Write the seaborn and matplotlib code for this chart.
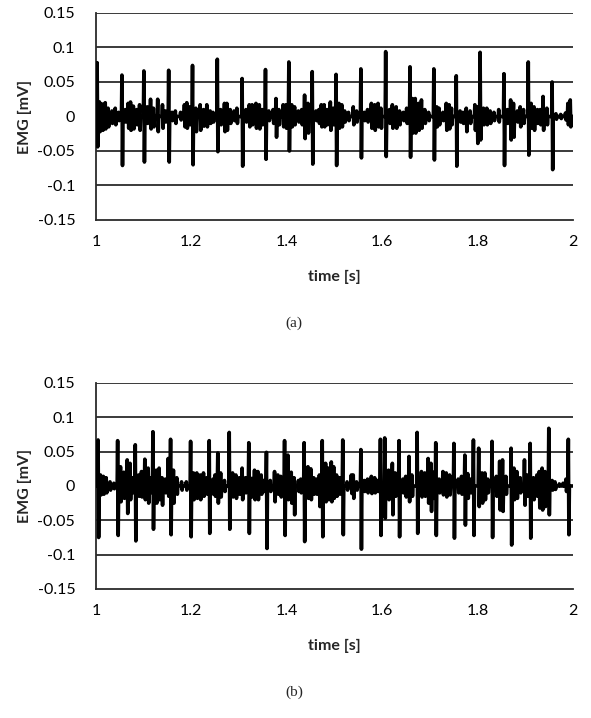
import matplotlib
matplotlib.use('Agg')
import matplotlib.pyplot as plt
import seaborn as sns

# values (time in s, EMG in mV)
a_spike_t = [1.003, 1.055, 1.101, 1.153, 1.203, 1.255, 1.307, 1.356, 1.405, 1.454,
             1.504, 1.556, 1.608, 1.659, 1.709, 1.756, 1.806, 1.856, 1.907, 1.957]
a_spike_hi = [0.078, 0.060, 0.066, 0.067, 0.074, 0.083, 0.055, 0.068, 0.079, 0.065,
              0.061, 0.069, 0.094, 0.072, 0.069, 0.059, 0.093, 0.062, 0.079, 0.050]
a_spike_lo = [-0.044, -0.071, -0.066, -0.066, -0.070, -0.051, -0.072, -0.062, -0.050, -0.069,
              -0.071, -0.060, -0.058, -0.059, -0.063, -0.072, -0.034, -0.071, -0.056, -0.077]

a_wig_t = [1.008, 1.014, 1.020, 1.026, 1.034, 1.041, 1.048, 1.062, 1.068, 1.073, 1.079, 1.086, 1.092,
           1.108, 1.115, 1.121, 1.130, 1.140, 1.146, 1.160, 1.167, 1.178, 1.186, 1.191, 1.197,
           1.210, 1.219, 1.226, 1.233, 1.240, 1.246, 1.262, 1.270, 1.275, 1.282, 1.290, 1.296,
           1.315, 1.322, 1.328, 1.336, 1.343, 1.349, 1.363, 1.372, 1.378, 1.384, 1.393, 1.399,
           1.411, 1.417, 1.425, 1.432, 1.438, 1.445, 1.462, 1.468, 1.473, 1.479, 1.485, 1.492, 1.498,
           1.510, 1.516, 1.522, 1.530, 1.540, 1.547, 1.563, 1.570, 1.578, 1.585, 1.592, 1.598,
           1.616, 1.622, 1.630, 1.637, 1.645, 1.652, 1.664, 1.670, 1.677, 1.683, 1.690, 1.698,
           1.715, 1.720, 1.728, 1.735, 1.741, 1.746, 1.764, 1.770, 1.777, 1.785, 1.795, 1.800,
           1.813, 1.820, 1.827, 1.835, 1.845, 1.863, 1.870, 1.876, 1.884, 1.890, 1.897,
           1.913, 1.919, 1.926, 1.932, 1.938, 1.946, 1.965, 1.975, 1.985, 1.990, 1.995]
a_wig_hi = [0.021, 0.018, 0.020, 0.012, 0.008, 0.012, 0.006, 0.010, 0.019, 0.021, 0.015, 0.010, 0.017,
            0.014, 0.025, 0.012, 0.025, 0.017, 0.008, 0.006, 0.008, 0.006, 0.017, 0.020, 0.014,
            0.012, 0.017, 0.010, 0.017, 0.008, 0.006, 0.010, 0.019, 0.019, 0.010, 0.008, 0.012,
            0.010, 0.017, 0.017, 0.019, 0.017, 0.010, 0.008, 0.010, 0.026, 0.010, 0.017, 0.017,
            0.017, 0.014, 0.008, 0.010, 0.031, 0.019, 0.008, 0.010, 0.017, 0.017, 0.010, 0.021, 0.012,
            0.019, 0.017, 0.008, 0.006, 0.014, 0.008, 0.006, 0.010, 0.019, 0.017, 0.019, 0.012,
            0.010, 0.017, 0.014, 0.008, 0.006, 0.012, 0.026, 0.026, 0.019, 0.024, 0.010, 0.006,
            0.014, 0.012, 0.006, 0.019, 0.017, 0.012, 0.008, 0.006, 0.012, 0.008, 0.017, 0.014,
            0.012, 0.012, 0.008, 0.006, 0.010, 0.010, 0.024, 0.019, 0.008, 0.014, 0.010,
            0.019, 0.014, 0.010, 0.010, 0.029, 0.012, 0.004, 0.003, 0.005, 0.019, 0.024]
a_wig_lo = [-0.022, -0.020, -0.018, -0.015, -0.010, -0.012, -0.006, -0.008, -0.017, -0.020, -0.018, -0.012, -0.020,
            -0.010, -0.018, -0.015, -0.022, -0.017, -0.008, -0.006, -0.010, -0.005, -0.015, -0.017, -0.012,
            -0.022, -0.020, -0.014, -0.015, -0.010, -0.008, -0.012, -0.022, -0.020, -0.010, -0.006, -0.010,
            -0.008, -0.015, -0.012, -0.017, -0.018, -0.012, -0.006, -0.010, -0.030, -0.012, -0.015, -0.017,
            -0.015, -0.012, -0.008, -0.012, -0.032, -0.024, -0.006, -0.010, -0.015, -0.015, -0.012, -0.020, -0.012,
            -0.017, -0.015, -0.008, -0.006, -0.012, -0.008, -0.006, -0.008, -0.017, -0.020, -0.015, -0.017,
            -0.010, -0.017, -0.017, -0.012, -0.006, -0.010, -0.024, -0.024, -0.020, -0.017, -0.010, -0.006,
            -0.015, -0.012, -0.006, -0.020, -0.018, -0.012, -0.008, -0.010, -0.022, -0.010, -0.020, -0.039,
            -0.012, -0.012, -0.010, -0.006, -0.008, -0.010, -0.034, -0.030, -0.008, -0.015, -0.010,
            -0.017, -0.020, -0.010, -0.012, -0.020, -0.012, -0.004, -0.003, -0.005, -0.012, -0.015]

b_spike_t = [1.005, 1.046, 1.083, 1.120, 1.157, 1.199, 1.238, 1.280, 1.321, 1.358, 1.396, 1.437, 1.475,
             1.518, 1.556, 1.597, 1.606, 1.636, 1.674, 1.713, 1.751, 1.792, 1.831, 1.871, 1.911, 1.950, 1.991]
b_spike_hi = [0.067, 0.066, 0.060, 0.079, 0.068, 0.065, 0.066, 0.078, 0.063, 0.049, 0.066, 0.063, 0.066,
              0.067, 0.053, 0.068, 0.070, 0.066, 0.078, 0.063, 0.062, 0.067, 0.065, 0.055, 0.062, 0.084, 0.068]
b_spike_lo = [-0.075, -0.072, -0.080, -0.063, -0.071, -0.074, -0.069, -0.063, -0.069, -0.091, -0.072, -0.081, -0.074,
              -0.071, -0.092, -0.072, -0.047, -0.074, -0.069, -0.072, -0.076, -0.072, -0.075, -0.086, -0.076, -0.042, -0.071]

b_wig_t = [1.010, 1.016, 1.022, 1.030, 1.038, 1.052, 1.059, 1.066, 1.072, 1.077, 1.090, 1.096, 1.103,
           1.110, 1.114, 1.127, 1.133, 1.139, 1.146, 1.152, 1.163, 1.170, 1.180, 1.190,
           1.205, 1.212, 1.219, 1.226, 1.233, 1.246, 1.250, 1.256, 1.262, 1.270, 1.287, 1.294,
           1.301, 1.307, 1.314, 1.327, 1.333, 1.340, 1.347, 1.352, 1.366, 1.375, 1.382, 1.388,
           1.403, 1.410, 1.416, 1.425, 1.430, 1.445, 1.451, 1.457, 1.463, 1.469, 1.482, 1.488,
           1.494, 1.499, 1.505, 1.511, 1.527, 1.536, 1.540, 1.547, 1.563, 1.570, 1.578, 1.585,
           1.591, 1.614, 1.622, 1.628, 1.644, 1.650, 1.657, 1.663, 1.683, 1.690, 1.697, 1.703,
           1.708, 1.720, 1.728, 1.735, 1.742, 1.760, 1.767, 1.774, 1.780, 1.786, 1.803, 1.810,
           1.816, 1.822, 1.840, 1.847, 1.853, 1.860, 1.877, 1.883, 1.890, 1.899, 1.905, 1.918,
           1.925, 1.930, 1.936, 1.942, 1.957, 1.963, 1.972, 1.980, 1.986]
b_wig_hi = [0.016, 0.014, 0.012, 0.006, 0.004, 0.028, 0.020, 0.038, 0.033, 0.012, 0.016, 0.021, 0.039,
            0.026, 0.012, 0.023, 0.026, 0.012, 0.010, 0.040, 0.023, 0.012, 0.006, 0.006,
            0.019, 0.019, 0.016, 0.019, 0.012, 0.010, 0.016, 0.048, 0.019, 0.008, 0.019, 0.016,
            0.012, 0.026, 0.012, 0.011, 0.023, 0.021, 0.016, 0.008, 0.008, 0.021, 0.016, 0.014,
            0.045, 0.020, 0.012, 0.008, 0.010, 0.028, 0.025, 0.012, 0.010, 0.016, 0.033, 0.026,
            0.035, 0.028, 0.016, 0.012, 0.006, 0.016, 0.016, 0.006, 0.008, 0.010, 0.014, 0.012,
            0.008, 0.023, 0.033, 0.019, 0.010, 0.014, 0.043, 0.016, 0.021, 0.019, 0.040, 0.033,
            0.020, 0.010, 0.021, 0.019, 0.016, 0.010, 0.014, 0.045, 0.018, 0.010, 0.055, 0.019,
            0.019, 0.010, 0.014, 0.036, 0.038, 0.014, 0.026, 0.021, 0.012, 0.038, 0.016, 0.012,
            0.016, 0.021, 0.026, 0.021, 0.008, 0.006, 0.003, 0.004, 0.010]
b_wig_lo = [-0.013, -0.012, -0.010, -0.006, -0.004, -0.023, -0.018, -0.040, -0.020, -0.010, -0.015, -0.016, -0.020,
            -0.025, -0.010, -0.025, -0.020, -0.028, -0.010, -0.015, -0.025, -0.012, -0.006, -0.006,
            -0.020, -0.018, -0.020, -0.015, -0.012, -0.012, -0.015, -0.025, -0.016, -0.008, -0.016, -0.018,
            -0.012, -0.020, -0.010, -0.016, -0.020, -0.020, -0.012, -0.008, -0.008, -0.023, -0.012, -0.016,
            -0.020, -0.025, -0.042, -0.008, -0.010, -0.018, -0.020, -0.012, -0.012, -0.030, -0.023, -0.020,
            -0.023, -0.018, -0.015, -0.012, -0.006, -0.011, -0.018, -0.006, -0.008, -0.010, -0.011, -0.010,
            -0.008, -0.020, -0.042, -0.015, -0.010, -0.016, -0.023, -0.015, -0.016, -0.015, -0.025, -0.037,
            -0.018, -0.010, -0.013, -0.016, -0.013, -0.010, -0.012, -0.057, -0.018, -0.010, -0.030, -0.025,
            -0.020, -0.010, -0.015, -0.035, -0.037, -0.012, -0.020, -0.018, -0.010, -0.028, -0.015, -0.020,
            -0.015, -0.032, -0.035, -0.030, -0.006, -0.005, 0.001, 0.002, -0.008]

y_ticks = [-0.15, -0.1, -0.05, 0, 0.05, 0.1, 0.15]
y_labels = ['-0.15', '-0.1', '-0.05', '0', '0.05', '0.1', '0.15']
x_ticks = [1, 1.2, 1.4, 1.6, 1.8, 2]
x_labels = ['1', '1.2', '1.4', '1.6', '1.8', '2']
captions = ['(a)', '(b)']


def trace(spike_t, spike_hi, spike_lo, wig_t, wig_hi, wig_lo):
    # each burst: back to baseline, up to its peak, down to its trough, back to baseline
    events = sorted(zip(spike_t + wig_t, spike_hi + wig_hi, spike_lo + wig_lo))
    xs, ys = [1.0], [0.0]
    for t, hi, lo in events:
        xs += [t - 0.0016, t - 0.0006, t + 0.0006, t + 0.0016]
        ys += [0.0, hi, lo, 0.0]
    xs.append(2.0)
    ys.append(0.0)
    return xs, ys


sns.set_style('white')
plt.rcParams['font.family'] = ['Lato', 'DejaVu Sans']

fig = plt.figure(figsize=(5.91, 7.18), dpi=100)
ax_a = fig.add_axes([0.1624, 0.6936, 0.807, 0.2883])
ax_b = fig.add_axes([0.1624, 0.1797, 0.807, 0.2869])

panels = [
    (ax_a, trace(a_spike_t, a_spike_hi, a_spike_lo, a_wig_t, a_wig_hi, a_wig_lo)),
    (ax_b, trace(b_spike_t, b_spike_hi, b_spike_lo, b_wig_t, b_wig_hi, b_wig_lo)),
]

for ax, (xs, ys) in panels:
    for yv in y_ticks[1:]:
        ax.axhline(yv, color='#2b2b2b', lw=1.3, zorder=1)
    sns.lineplot(x=xs, y=ys, ax=ax, color='black', linewidth=2.6,
                 estimator=None, sort=False, zorder=3)
    ax.set_xlim(1, 2)
    ax.set_ylim(-0.15, 0.15)
    ax.set_yticks(y_ticks)
    ax.set_yticklabels(y_labels)
    ax.set_xticks(x_ticks)
    ax.set_xticklabels(x_labels)
    ax.tick_params(axis='both', direction='in', length=5, width=1.2, color='#2b2b2b',
                   labelsize=11.5, colors='black')
    ax.tick_params(axis='y', pad=15)
    ax.tick_params(axis='x', pad=11)
    for side in ['top', 'right']:
        ax.spines[side].set_visible(False)
    for side in ['left', 'bottom']:
        ax.spines[side].set_color('#2b2b2b')
        ax.spines[side].set_linewidth(1.3)
    ax.set_ylabel('EMG [mV]', fontsize=11.5, fontweight='bold')
    ax.set_xlabel('time [s]', fontsize=11.5, fontweight='bold')
    ax.yaxis.set_label_coords(-0.135, 0.5)
    ax.xaxis.set_label_coords(0.5, -0.24)

fig.text(0.4975, 0.550, captions[0], ha='center', va='center', fontsize=11,
         family='Liberation Serif')
fig.text(0.4975, 0.036, captions[1], ha='center', va='center', fontsize=11,
         family='Liberation Serif')

fig.savefig('out.png', dpi=100, facecolor='white')
